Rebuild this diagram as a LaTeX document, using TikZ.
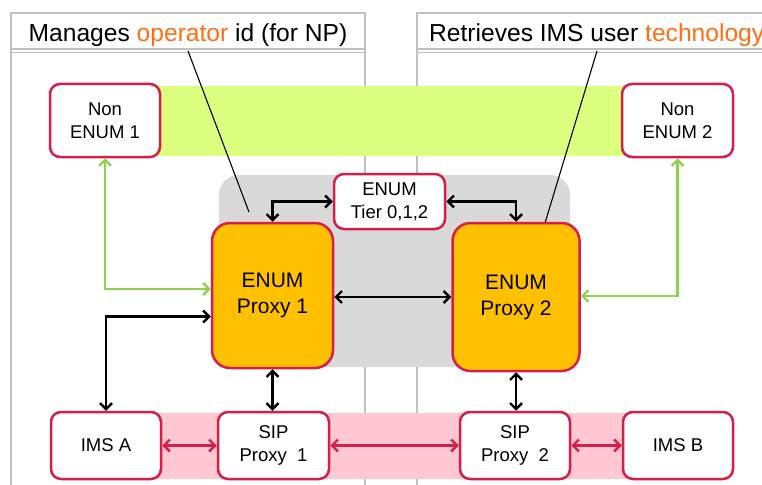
\documentclass[tikz,border=0pt]{standalone}
\usepackage{fontspec}
\setmainfont{Liberation Sans}
\usetikzlibrary{arrows.meta,calc}
\definecolor{boxred}{RGB}{214,30,72}
\definecolor{proxyfill}{RGB}{255,192,0}
\definecolor{txtorange}{RGB}{255,110,20}
\definecolor{panelgray}{RGB}{192,192,192}
\definecolor{regiongray}{RGB}{217,217,217}
\definecolor{bandgreen}{RGB}{221,255,128}
\definecolor{bandpink}{RGB}{255,200,210}
\definecolor{arrgreen}{RGB}{146,208,80}
\tikzset{
  smallbox/.style={draw=boxred, line width=2.5pt, fill=white, rounded corners=10pt,
    inner sep=0pt, align=center, font=\fontsize{18.5}{23}\selectfont},
  proxybox/.style={draw=boxred, line width=2.5pt, fill=proxyfill, rounded corners=18pt,
    inner sep=0pt, align=center, font=\fontsize{21}{26}\selectfont},
  blk/.style={line width=2.4pt, {Straight Barb[length=6pt,width=12pt]}-{Straight Barb[length=6pt,width=12pt]}},
  grn/.style={arrgreen, line width=2.4pt, {Straight Barb[length=6pt,width=12pt]}-{Straight Barb[length=6pt,width=12pt]}},
  rdl/.style={boxred, line width=2.4pt, {Straight Barb[length=6pt,width=12pt]}-{Straight Barb[length=6pt,width=12pt]}},
  panel/.style={draw=panelgray, line width=1.8pt},
  titletext/.style={font=\fontsize{24.6}{28}\selectfont, inner sep=0pt},
  callout/.style={line width=1.1pt}
}
\begin{document}
\begin{tikzpicture}[x=1pt,y=-1pt]
\useasboundingbox (0,0) rectangle (762,484);
\clip (0,0) rectangle (762,484);
\fill[white] (0,0) rectangle (762,484);
% panels
\draw[panel] (11,13) rectangle (365,500);
\draw[panel] (11,49.3) -- (365,49.3);
\draw[panel] (11,52.5) -- (365,52.5);
\draw[panel] (417,13) rectangle (800,500);
\draw[panel] (417,49.3) -- (800,49.3);
\draw[panel] (417,52.5) -- (800,52.5);
\node[titletext, anchor=base] (t1) at (188,42) {Manages \textcolor{txtorange}{operator} id (for NP)};
\node[titletext, anchor=base west] (t2) at (429,42) {Retrieves IMS user \textcolor{txtorange}{technology}};
% bands and region
\fill[bandgreen] (150,86) rectangle (630,156);
\fill[regiongray, rounded corners=20pt] (219,175) rectangle (570,367);
\fill[bandpink] (155,413) rectangle (628,479);
% callout lines
\coordinate (c1a) at (188,51);
\coordinate (c1b) at (249,212);
\coordinate (c2a) at (597,51);
\coordinate (c2b) at (545,223);
\draw[callout] (c1a) -- (c1b);
\draw[callout] (c2a) -- (c2b);
% nodes
\node[smallbox, minimum width=110pt, minimum height=73pt] (ne1) at (105,120.5) {Non\\ENUM 1};
\node[smallbox, minimum width=111pt, minimum height=73pt] (ne2) at (677.5,120.5) {Non\\ENUM 2};
\node[smallbox, minimum width=111pt, minimum height=55pt] (tier) at (389.5,201.5) {ENUM\\Tier 0,1,2};
\node[proxybox, minimum width=121pt, minimum height=145pt] (p1) at (272.5,295.5) {ENUM\\Proxy 1};
\node[proxybox, minimum width=127pt, minimum height=148pt] (p2) at (516,297) {ENUM\\Proxy 2};
\node[smallbox, minimum width=110pt, minimum height=67pt] (imsa) at (106,445.5) {IMS A};
\node[smallbox, minimum width=111pt, minimum height=67pt] (sip1) at (273.5,445.5) {SIP\\Proxy \ 1};
\node[smallbox, minimum width=110pt, minimum height=67pt] (sip2) at (515,445.5) {SIP\\Proxy \ 2};
\node[smallbox, minimum width=110pt, minimum height=67pt] (imsb) at (678,445.5) {IMS B};
% black connectors
\draw[blk] (tier.west) -| (p1.north);
\draw[blk] (tier.east) -| (p2.north);
\draw[blk] ($(p1.east)+(0,1.5)$) -- (p2.west);
\draw[blk] ($(p1.west)+(0,21)$) -| (imsa.north);
\draw[blk] (p1.south) -- (p1.south |- sip1.north);
\draw[blk] (p2.south) -- (p2.south |- sip2.north);
% green connectors
\draw[grn] (ne1.south) |- ($(p1.west)+(0,-6.5)$);
\draw[grn] (ne2.south) |- ($(p2.east)+(0,-1)$);
% red connectors
\draw[rdl] (imsa.east) -- (sip1.west);
\draw[rdl] (sip1.east) -- (sip2.west);
\draw[rdl] (sip2.east) -- (imsb.west);
\end{tikzpicture}
\end{document}
